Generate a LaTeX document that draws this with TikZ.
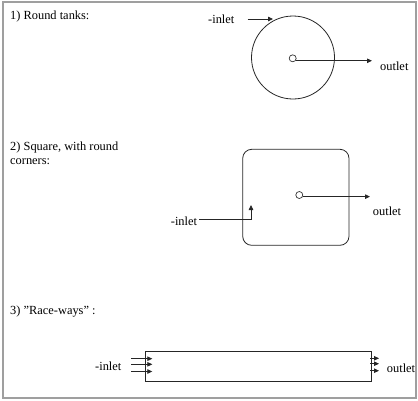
\documentclass[tikz,border=0pt]{standalone}
\usepackage{fontspec}
\setmainfont{Liberation Serif}
\usetikzlibrary{arrows.meta}
\begin{document}
\begin{tikzpicture}[x=1pt,y=-1pt,
  lbl/.style={inner sep=0pt, font=\fontsize{12.4}{15}\selectfont, anchor=west},
  thinline/.style={line width=0.8pt, black!85},
  arr/.style={thinline, -{Triangle[length=5pt,width=4.5pt]}},
  port/.style={circle, draw, line width=0.7pt, black!80, minimum size=7pt, inner sep=0pt},
  tankbox/.style={draw, thinline, inner sep=0pt}]
\useasboundingbox (0,0) rectangle (418,400);
\draw[gray!75, line width=2pt] (2.5,1.5) rectangle (415.5,397.5);

% 1) Round tanks
\node[lbl] (t1) at (10,17) {1) Round tanks:};
\node[tankbox, circle, minimum size=83pt] (tank1) at (293,57.5) {};
\node[port] (p1) at (292.7,58.3) {};
\node[lbl] (in1) at (208,19) {-inlet};
\node[lbl] (out1) at (380,66) {outlet};
\coordinate (in1e) at (273,19);
\coordinate (o1e) at (372,61);
\draw[arr] ([xshift=13pt]in1.east) -- (in1e);
\draw[arr] (p1.-40) -- (p1.-40 -| o1e);

% 2) Square, with round corners
\node[lbl] (t2a) at (10,147.3) {2) Square, with round};
\node[lbl] (t2b) at (10,161.7) {corners:};
\node[tankbox, rounded corners=9pt, minimum width=106.3pt, minimum height=96pt] (tank2) at (295.85,197.3) {};
\node[port] (p2) at (299.3,195) {};
\node[lbl] (out2) at (372.7,211.7) {outlet};
\node[lbl] (in2) at (170.7,221.7) {-inlet};
\coordinate (o2e) at (370,197);
\coordinate (in2e) at (251,205);
\draw[arr] (p2.-25) -- (p2.-25 -| o2e);
\draw[arr] ([shift={(2,-2.4)}]in2.east) -| (in2e);

% 3) Race-ways
\node[lbl] (t3) at (10,311.7) {3) "Race-ways" :};
\node[tankbox, minimum width=226.7pt, minimum height=30pt] (race) at (258.35,366) {};
\node[lbl] (in3) at (95,366) {-inlet};
\node[lbl] (out3) at (386.7,368) {outlet};
\coordinate (ia) at (131,358.7);
\coordinate (ib) at (131,364.3);
\coordinate (ic) at (131,371.5);
\draw[arr] (ia) -- (ia -| race.west) -- ++(7.7,0);
\draw[arr] (ib) -- (ib -| race.west) -- ++(7.7,0);
\draw[arr] (ic) -- (ic -| race.west) -- ++(7.7,0);
\coordinate (oa) at (379,358.3);
\coordinate (ob) at (379,363.7);
\coordinate (oc) at (379,370.7);
\draw[arr] ([xshift=-2pt]oa -| race.east) -- (oa);
\draw[arr] ([xshift=-2pt]ob -| race.east) -- (ob);
\draw[arr] ([xshift=-2pt]oc -| race.east) -- (oc);
\end{tikzpicture}
\end{document}
